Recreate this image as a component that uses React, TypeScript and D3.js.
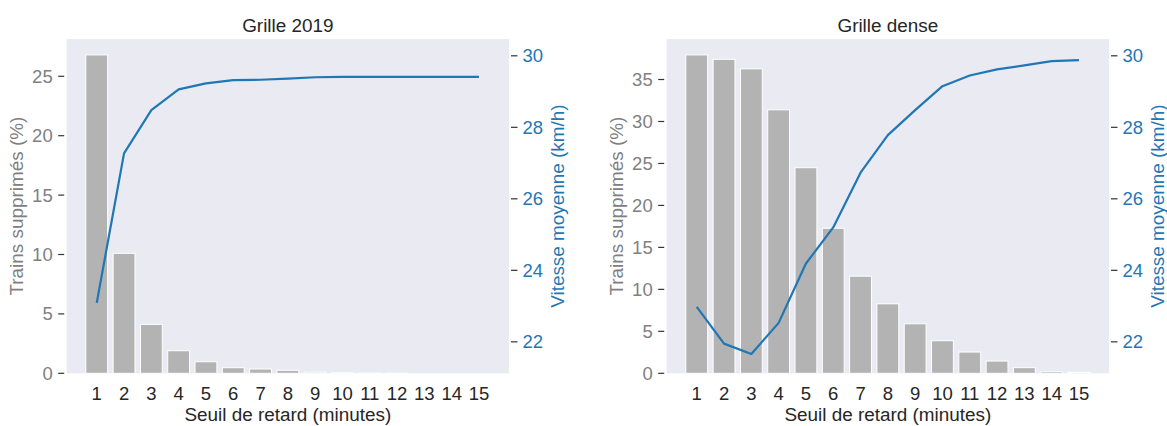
import React from "react";
import * as d3 from "d3";

const thresholds = [1, 2, 3, 4, 5, 6, 7, 8, 9, 10, 11, 12, 13, 14, 15];

const supp2019 = [26.8, 10.1, 4.12, 1.9, 0.97, 0.47, 0.36, 0.25, 0.1, 0.05, 0.02, 0.01, 0, 0, 0];
const speed2019 = [23.09, 27.27, 28.48, 29.06, 29.23, 29.32, 29.33, 29.36, 29.4, 29.41, 29.41, 29.41, 29.41, 29.41, 29.41];

const suppDense = [37.93, 37.41, 36.27, 31.39, 24.49, 17.28, 11.57, 8.28, 5.9, 3.88, 2.53, 1.46, 0.67, 0.19, 0.12];
const speedDense = [22.98, 21.95, 21.66, 22.53, 24.19, 25.2, 26.73, 27.78, 28.48, 29.15, 29.45, 29.62, 29.73, 29.85, 29.88];

const ticks2019 = [0, 5, 10, 15, 20, 25];
const ticksDense = [0, 5, 10, 15, 20, 25, 30, 35];
const speedTicks = [22, 24, 26, 28, 30];
const speedDomain = [21.12, 30.47];

const FONT = "'Liberation Sans', Arial, sans-serif";
const FS = 18.5;
const FS_LABEL = 18.9;
const BLUE = "#1f77b4";
const GRAY_TXT = "#808080";

type PanelProps = {
  x0: number;
  x1: number;
  title: string;
  supp: number[];
  speed: number[];
  leftTicks: number[];
};

function Panel({ x0, x1, title, supp, speed, leftTicks }: PanelProps) {
  const y0 = 39;
  const y1 = 373.3;
  const x = d3.scaleLinear().domain([-1.1, 15.1]).range([x0, x1]);
  const yL = d3.scaleLinear().domain([0, d3.max(supp)! * 1.05]).range([y1, y0]);
  const yR = d3.scaleLinear().domain(speedDomain).range([y1, y0]);
  const bw = x(0.4) - x(-0.4);
  const line = d3
    .line<number>()
    .x((_, i) => x(i))
    .y((d) => yR(d));
  const cx = (x0 + x1) / 2;
  const cy = (y0 + y1) / 2;
  return (
    <g>
      <rect x={x0} y={y0} width={x1 - x0} height={y1 - y0} fill="#eaeaf2" />
      {supp.map((v, i) => (
        <rect
          key={i}
          x={x(i) - bw / 2}
          y={yL(v)}
          width={bw}
          height={y1 - yL(v)}
          fill="#b3b3b3"
          stroke="#ffffff"
          strokeWidth={1}
        />
      ))}
      <path d={line(speed)!} fill="none" stroke={BLUE} strokeWidth={2.2} strokeLinejoin="round" />
      {leftTicks.map((t) => (
        <g key={t}>
          <line x1={x0 - 8.5} x2={x0 - 2.5} y1={yL(t)} y2={yL(t)} stroke="#333" strokeWidth={1.2} />
          <text
            x={x0 - 14}
            y={yL(t)}
            dy="0.35em"
            textAnchor="end"
            fontSize={FS}
            fill={GRAY_TXT}
            fontFamily={FONT}
          >
            {t}
          </text>
        </g>
      ))}
      {speedTicks.map((t) => (
        <g key={t}>
          <line x1={x1 + 2} x2={x1 + 8.5} y1={yR(t)} y2={yR(t)} stroke="#333" strokeWidth={1.2} />
          <text x={x1 + 13.5} y={yR(t)} dy="0.35em" fontSize={FS} fill={BLUE} fontFamily={FONT}>
            {t}
          </text>
        </g>
      ))}
      {thresholds.map((t, i) => (
        <text
          key={t}
          x={x(i)}
          y={400}
          textAnchor="middle"
          fontSize={FS}
          fill="#262626"
          fontFamily={FONT}
        >
          {t}
        </text>
      ))}
      <text x={cx} y={421} textAnchor="middle" fontSize={FS_LABEL} fill="#262626" fontFamily={FONT}>
        Seuil de retard (minutes)
      </text>
      <text x={cx} y={31.5} textAnchor="middle" fontSize={FS_LABEL} fill="#262626" fontFamily={FONT}>
        {title}
      </text>
      <text
        transform={`translate(${x0 - 44},${cy}) rotate(-90)`}
        textAnchor="middle"
        fontSize={FS_LABEL}
        fill={GRAY_TXT}
        fontFamily={FONT}
      >
        Trains supprimés (%)
      </text>
      <text
        transform={`translate(${x1 + 54.5},${cy}) rotate(-90)`}
        textAnchor="middle"
        fontSize={FS_LABEL}
        fill={BLUE}
        fontFamily={FONT}
      >
        Vitesse moyenne (km/h)
      </text>
    </g>
  );
}

export default function App() {
  return (
    <>
      <style>{`body{margin:0;background:#fff}`}</style>
      <svg width={1167} height={426} style={{ display: "block" }}>
        <rect width={1167} height={426} fill="#ffffff" />
        <Panel x0={66.7} x1={509} title="Grille 2019" supp={supp2019} speed={speed2019} leftTicks={ticks2019} />
        <Panel x0={666.7} x1={1109} title="Grille dense" supp={suppDense} speed={speedDense} leftTicks={ticksDense} />
      </svg>
    </>
  );
}
